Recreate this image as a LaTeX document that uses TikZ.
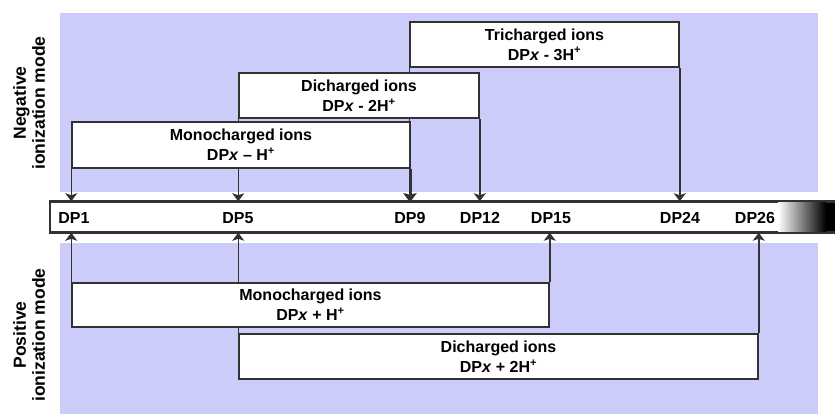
\documentclass[tikz,border=0pt]{standalone}
\usepackage{fontspec}
\setmainfont{Liberation Sans}
\usetikzlibrary{arrows.meta, positioning}
\pgfdeclarelayer{bg}
\pgfdeclarelayer{links}
\pgfsetlayers{bg,links,main}
\definecolor{modeblue}{RGB}{204,204,250}
\definecolor{edgegray}{RGB}{50,50,50}
\tikzset{
  ionbox/.style={draw=edgegray, fill=white, line width=1.5pt, align=center, inner sep=0pt,
    font=\fontsize{16}{20}\selectfont\bfseries},
  dplabel/.style={font=\fontsize{16}{18}\selectfont\bfseries, inner sep=0pt},
  modelabel/.style={rotate=90, align=center, font=\fontsize{17.5}{19}\selectfont\bfseries},
  tick/.style={draw=edgegray, line width=1.5pt, -{Stealth[length=8pt,width=12pt,inset=2pt]}},
}

\begin{document}
\begin{tikzpicture}[x=1pt, y=-1pt]
\useasboundingbox (0,0) rectangle (835,414);

% mode regions
\begin{pgfonlayer}{bg}
  \fill[modeblue] (60,13) rectangle (818,192);
  \fill[modeblue] (60,243) rectangle (818,414);
\end{pgfonlayer}

% DP axis
\node[draw=edgegray, fill=white, line width=1.5pt, minimum width=786pt, minimum height=30pt, inner sep=0pt] (bar) at (443,217) {};
\shade[left color=white, right color=black] (778,202.8) rectangle (826,231.2);
\fill[black] (826,202.8) rectangle (836,231.2);
\draw[edgegray, line width=1.5pt] (bar.north west) -- (bar.north east) (bar.south west) -- (bar.south east);

\node[dplabel] (dp1) at (74,218) {DP1};
\node[dplabel] (dp5) at (238,218) {DP5};
\node[dplabel] (dp9) at (410,218) {DP9};
\node[dplabel] (dp12) at (480,218) {DP12};
\node[dplabel] (dp15) at (551,218) {DP15};
\node[dplabel] (dp24) at (680,218) {DP24};
\node[dplabel] (dp26) at (755,218) {DP26};

% negative mode
\node[ionbox, minimum width=338pt, minimum height=46pt] (negmono) at (241,145) {Monocharged ions\\DP\textit{x} -- H\textsuperscript{+}};
\node[ionbox, minimum width=240pt, minimum height=45pt] (negdi) at (359,95.5) {Dicharged ions\\DP\textit{x} - 2H\textsuperscript{+}};
\node[ionbox, minimum width=269pt, minimum height=45pt] (negtri) at (544.5,44.5) {Tricharged ions\\DP\textit{x} - 3H\textsuperscript{+}};

% positive mode
\node[ionbox, minimum width=477pt, minimum height=44pt] (posmono) at (310.5,305) {Monocharged ions\\DP\textit{x} + H\textsuperscript{+}};
\node[ionbox, minimum width=519pt, minimum height=45pt] (posdi) at (498.5,356.5) {Dicharged ions\\DP\textit{x} + 2H\textsuperscript{+}};

\begin{pgfonlayer}{links}
  \foreach \b in {negmono, negdi, negtri} {
    \draw[tick] (\b.south west) -- (\b.south west |- bar.north);
    \draw[tick] (\b.south east) -- (\b.south east |- bar.north);
  }
  \foreach \b in {posmono, posdi} {
    \draw[tick] (\b.north west) -- (\b.north west |- bar.south);
    \draw[tick] (\b.north east) -- (\b.north east |- bar.south);
  }
\end{pgfonlayer}

\node[modelabel] (negmode) at (29,103) {Negative\\ionization mode};
\node[modelabel] (posmode) at (29,335) {Positive\\ionization mode};
\end{tikzpicture}
\end{document}
